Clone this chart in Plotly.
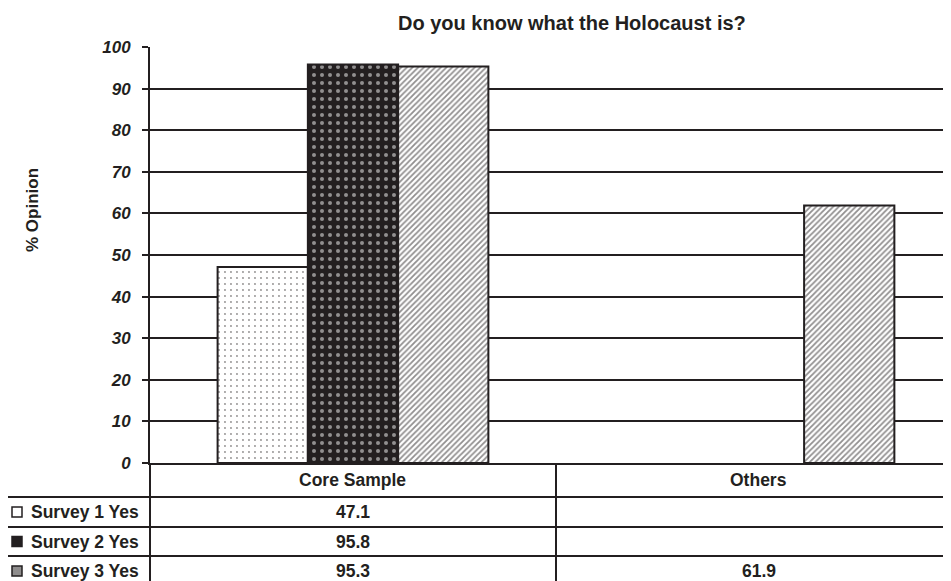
import plotly.graph_objects as go

# ---------------- data ----------------
categories = ["Core Sample", "Others"]
series_names = ["Survey 1 Yes", "Survey 2 Yes", "Survey 3 Yes"]
survey1 = [47.1, None]
survey2 = [95.8, None]
survey3 = [95.3, 61.9]
y_ticks = [0, 10, 20, 30, 40, 50, 60, 70, 80, 90, 100]
chart_title = "Do you know what the Holocaust is?"
y_title = "% Opinion"

series_values = [survey1, survey2, survey3]

# ---------------- layout constants ----------------
OFF = 8                      # page body margin of the browser
W, H = 951 - OFF, 581 - OFF  # figure size so the page fits the window
L, T = 150 - OFF, 47 - OFF   # plot area left / top in figure pixels
PB = 463 - OFF               # plot bottom in figure pixels
R, B = 0, H - PB
PW, PH = W - L - R, H - T - B
INK = "#231f20"
FONT = "Liberation Sans, Arial, sans-serif"


def px(p):
    """screen pixel x -> paper x"""
    return (p - OFF - L) / PW


def py(p):
    """screen pixel y -> paper y"""
    return (PB - (p - OFF)) / PH


patterns = [
    dict(shape=".", bgcolor="white", fgcolor=INK, size=6, solidity=0.08),
    dict(shape=".", bgcolor=INK, fgcolor="white", size=8, solidity=0.2),
    dict(shape="/", bgcolor="white", fgcolor=INK, size=4, solidity=0.45),
]

fig = go.Figure()
for name, vals, pat in zip(series_names, series_values, patterns):
    fig.add_trace(go.Bar(
        x=categories, y=vals, name=name,
        marker=dict(color="white", line=dict(color=INK, width=2), pattern=pat),
        showlegend=False,
    ))

# ---------------- table ----------------
header_y = 480
row_lines = [497, 527, 556]
row_centers = [512, 541.5, 571]
divider_x = 0.5
bottom = 590

shapes = []
line = dict(color=INK, width=2)
shapes.append(dict(type="line", xref="paper", yref="paper", x0=0, x1=0,
                   y0=py(463), y1=py(bottom), line=line))
shapes.append(dict(type="line", xref="x", yref="paper", x0=divider_x, x1=divider_x,
                   y0=py(463), y1=py(bottom), line=line))
shapes.append(dict(type="line", xref="paper", yref="paper", x0=px(7), x1=px(7),
                   y0=py(row_lines[0]), y1=py(bottom), line=line))
for ry in row_lines:
    shapes.append(dict(type="line", xref="paper", yref="paper", x0=px(7), x1=px(960),
                       y0=py(ry), y1=py(ry), line=line))

# legend icons
icon_fills = ["white", INK, "#8f8d8d"]
for i, rc in enumerate(row_centers):
    shapes.append(dict(type="rect", xref="paper", yref="paper",
                       x0=px(12), x1=px(22), y0=py(rc + 5), y1=py(rc - 5),
                       fillcolor=icon_fills[i], line=dict(color=INK, width=1.5)))

annotations = []
tfont = dict(family=FONT, size=17.5, color=INK, weight="bold")
for j, cat in enumerate(categories):
    annotations.append(dict(x=j, y=py(header_y), xref="x", yref="paper", text=cat,
                            showarrow=False, font=tfont, xanchor="center", yanchor="middle"))
for i, (name, vals) in enumerate(zip(series_names, series_values)):
    annotations.append(dict(x=px(29), y=py(row_centers[i]), xref="paper", yref="paper",
                            text=name, showarrow=False, font=tfont,
                            xanchor="left", yanchor="middle"))
    for j, v in enumerate(vals):
        if v is not None:
            annotations.append(dict(x=j, y=py(row_centers[i]), xref="x", yref="paper",
                                    text=f"{v:.1f}", showarrow=False, font=tfont,
                                    xanchor="center", yanchor="middle"))

annotations.append(dict(x=px(572), y=py(23), xref="paper", yref="paper", text=chart_title,
                        showarrow=False, font=dict(family=FONT, size=20, color=INK, weight="bold"),
                        xanchor="center", yanchor="middle"))
annotations.append(dict(x=px(32), y=py(210), xref="paper", yref="paper", text=y_title,
                        showarrow=False, textangle=-90,
                        font=dict(family=FONT, size=17, color=INK, weight="bold"),
                        xanchor="center", yanchor="middle"))

fig.update_layout(
    width=W, height=H, autosize=False,
    margin=dict(l=L, r=R, t=T, b=B, pad=0),
    paper_bgcolor="white", plot_bgcolor="white",
    barmode="group", bargap=0.333, bargroupgap=0,
    shapes=shapes, annotations=annotations,
    xaxis=dict(type="category", range=[-0.5, 1.473], showticklabels=False, ticks="",
               showgrid=False, zeroline=False, showline=True, linecolor=INK, linewidth=2),
    yaxis=dict(range=[0, 100], tickvals=y_ticks, showgrid=True, gridcolor=INK, gridwidth=2,
               zeroline=False, showline=True, linecolor=INK, linewidth=2,
               ticks="outside", ticklen=6, tickwidth=2, tickcolor=INK,
               ticklabelstandoff=8,
               tickfont=dict(family=FONT, size=17, color=INK, weight="bold", style="italic")),
)

fig.write_html("out.html")
